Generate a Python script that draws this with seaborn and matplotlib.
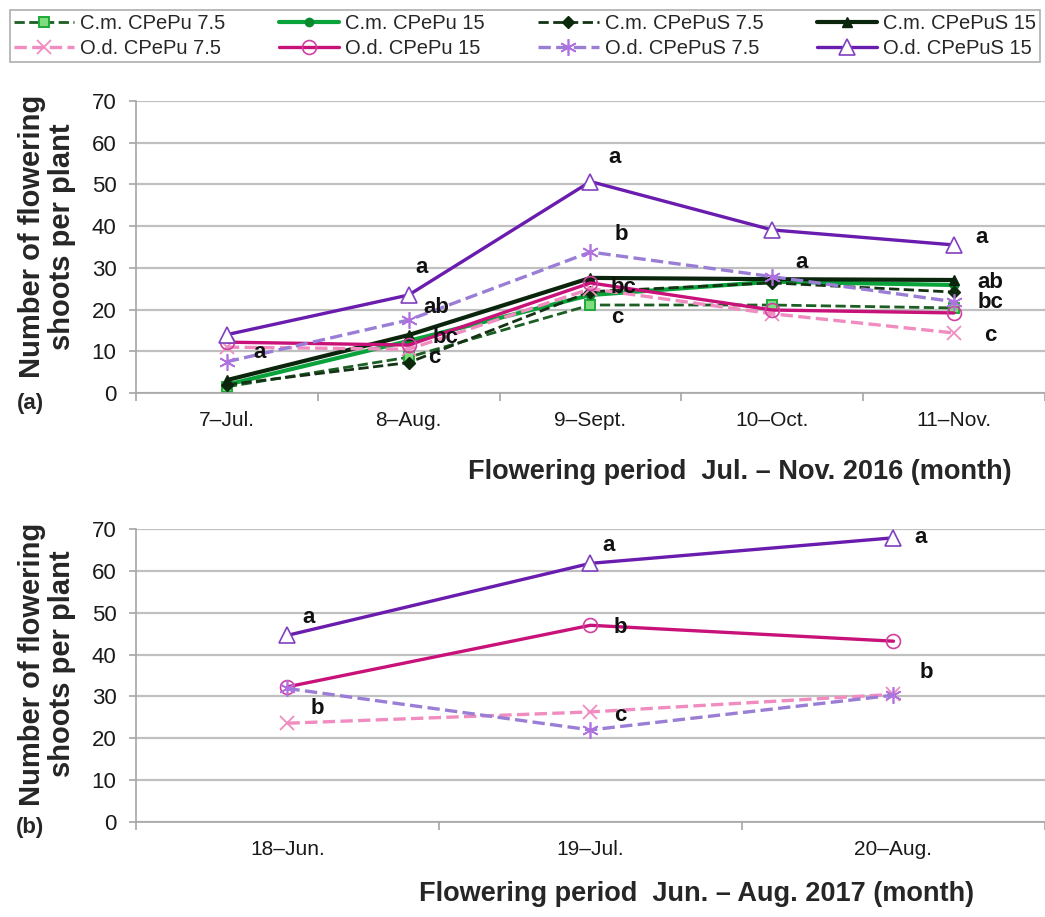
import matplotlib
matplotlib.use("Agg")
import matplotlib.pyplot as plt
from matplotlib.ticker import FixedLocator, NullFormatter
import seaborn as sns

# ---- data -----------------------------------------------------------------
months_2016 = ["7\u2013Jul.", "8\u2013Aug.", "9\u2013Sept.", "10\u2013Oct.", "11\u2013Nov."]
months_2017 = ["18\u2013Jun.", "19\u2013Jul.", "20\u2013Aug."]

series_names = [
    "C.m. CPePu 7.5", "C.m. CPePu 15", "C.m. CPePuS 7.5", "C.m. CPePuS 15",
    "O.d. CPePu 7.5", "O.d. CPePu 15", "O.d. CPePuS 7.5", "O.d. CPePuS 15",
]

# 2016 flowering shoots per plant
cm_cpepu_75_2016 = [1.5, 8.6, 21.1, 21.1, 20.4]
cm_cpepu_15_2016 = [2.0, 12.5, 23.5, 26.7, 25.9]
cm_cpepus_75_2016 = [2.0, 7.3, 24.3, 26.4, 24.2]
cm_cpepus_15_2016 = [3.1, 13.9, 27.6, 27.3, 27.1]
od_cpepu_75_2016 = [11.0, 10.5, 25.0, 19.0, 14.4]
od_cpepu_15_2016 = [12.2, 11.5, 26.4, 19.9, 19.2]
od_cpepus_75_2016 = [7.5, 17.5, 33.8, 27.9, 21.9]
od_cpepus_15_2016 = [14.0, 23.5, 50.7, 39.1, 35.5]

# 2017 flowering shoots per plant (O.d. only)
od_cpepu_75_2017 = [23.6, 26.3, 30.5]
od_cpepu_15_2017 = [32.3, 47.0, 43.2]
od_cpepus_75_2017 = [31.9, 22.0, 30.3]
od_cpepus_15_2017 = [44.6, 61.8, 67.9]

# significance letters: (text, x position in category units, y value)
letters_2016 = [
    ("a", 0.18, 9.8),
    ("a", 1.07, 30.2), ("ab", 1.15, 20.4), ("bc", 1.20, 13.4), ("c", 1.14, 8.4),
    ("a", 2.13, 56.4), ("b", 2.17, 37.9), ("bc", 2.18, 25.2), ("c", 2.15, 18.0),
    ("a", 3.16, 31.2),
    ("a", 4.15, 37.4), ("ab", 4.20, 26.6), ("bc", 4.20, 21.6), ("c", 4.20, 13.9),
]
letters_2017 = [
    ("a", 0.07, 48.9), ("b", 0.10, 27.2),
    ("a", 1.06, 66.1), ("b", 1.10, 46.5), ("c", 1.10, 25.5),
    ("a", 2.09, 68.0), ("b", 2.11, 35.8),
]

# ---- line styles ------------------------------------------------------------
styles = {
    "C.m. CPePu 7.5": dict(color="#1d5e25", linestyle="--", lw=2.0, marker="s", ms=7,
                           mfc="#7fdc7f", mec="#1faa3a", mew=1.4),
    "C.m. CPePu 15": dict(color="#0aa23a", linestyle="-", lw=3.0, marker="o", ms=6,
                          mfc="#0a8a2e", mec="#0a8a2e"),
    "C.m. CPePuS 7.5": dict(color="#143214", linestyle="--", lw=2.0, marker="D", ms=6,
                            mfc="#0c2a0c", mec="#0c2a0c"),
    "C.m. CPePuS 15": dict(color="#0b250d", linestyle="-", lw=3.0, marker="^", ms=7,
                           mfc="#0b250d", mec="#0b250d"),
    "O.d. CPePu 7.5": dict(color="#f08cc0", linestyle="--", lw=2.4, marker="x", ms=10,
                           mfc="none", mec="#f08cc0", mew=1.3),
    "O.d. CPePu 15": dict(color="#c8127a", linestyle="-", lw=2.4, marker="o", ms=10,
                          mfc="none", mec="#d040a0", mew=1.2),
    "O.d. CPePuS 7.5": dict(color="#9a7ed6", linestyle="--", lw=2.4, marker=(6, 2, 0), ms=12,
                            mfc="none", mec="#b070e0", mew=1.2),
    "O.d. CPePuS 15": dict(color="#6a1cae", linestyle="-", lw=2.4, marker="^", ms=11,
                           mfc="white", mec="#8040c0", mew=1.2),
}

sns.set_theme(style="white")
plt.rcParams["font.family"] = ["Liberation Sans", "DejaVu Sans"]

fig = plt.figure(figsize=(10.45, 9.17), dpi=100)
ax1 = fig.add_axes([0.1301, 0.5714, 0.8699, 0.3184])
ax2 = fig.add_axes([0.1301, 0.1036, 0.8699, 0.3195])

grid_color = "#c0c0c0"


def draw_series(ax, months, values, name):
    st = styles[name]
    sns.lineplot(x=months, y=values, ax=ax, sort=False, errorbar=None, label=name,
                 color=st["color"], linestyle=st["linestyle"], linewidth=st["lw"],
                 marker=st["marker"], markersize=st["ms"],
                 markerfacecolor=st.get("mfc", st["color"]),
                 markeredgecolor=st.get("mec", st["color"]),
                 markeredgewidth=st.get("mew", 1.0), legend=False)


data_2016 = [cm_cpepu_75_2016, cm_cpepu_15_2016, cm_cpepus_75_2016, cm_cpepus_15_2016,
             od_cpepu_75_2016, od_cpepu_15_2016, od_cpepus_75_2016, od_cpepus_15_2016]
for name, vals in zip(series_names, data_2016):
    draw_series(ax1, months_2016, vals, name)

data_2017 = [od_cpepu_75_2017, od_cpepu_15_2017, od_cpepus_75_2017, od_cpepus_15_2017]
for name, vals in zip(series_names[4:], data_2017):
    draw_series(ax2, months_2017, vals, name)


def style_axes(ax, n, letters, label_y):
    ax.set_xlim(-0.5, n - 0.5)
    ax.set_ylim(0, 70)
    ax.set_yticks(range(0, 71, 10))
    ax.yaxis.grid(True, color=grid_color, lw=1.6)
    ax.set_axisbelow(True)
    for s in ("top", "right"):
        ax.spines[s].set_visible(False)
    for s in ("left", "bottom"):
        ax.spines[s].set_color("#a6a6a6")
        ax.spines[s].set_linewidth(1.2)
    ax.xaxis.set_minor_locator(FixedLocator([i - 0.5 for i in range(n + 1)]))
    ax.xaxis.set_minor_formatter(NullFormatter())
    ax.tick_params(axis="x", which="major", length=0, pad=13, labelsize=15, labelcolor="#1a1a1a")
    ax.tick_params(axis="x", which="minor", length=6, width=1.2, color="#a6a6a6",
                   direction="out", bottom=True)
    ax.tick_params(axis="y", which="major", length=5, width=1.2, color="#a6a6a6",
                   direction="out", left=True, pad=9, labelsize=16, labelcolor="#1a1a1a")
    ax.set_ylabel("Number of flowering\nshoots per plant", fontsize=21, fontweight="bold",
                  linespacing=1.1)
    ax.yaxis.set_label_coords(-0.066, label_y)
    for txt, xx, yy in letters:
        ax.text(xx, yy, txt, ha="center", va="center", fontsize=16, fontweight="bold",
                color="#111111")


style_axes(ax1, len(months_2016), letters_2016, 0.535)
style_axes(ax2, len(months_2017), letters_2017, 0.539)

ax1.set_xlabel("Flowering period  Jul. \u2013 Nov. 2016 (month)", fontsize=19.5,
               fontweight="bold")
ax1.xaxis.set_label_coords(0.664, -0.225)
ax2.set_xlabel("Flowering period  Jun. \u2013 Aug. 2017 (month)", fontsize=19.5,
               fontweight="bold")
ax2.xaxis.set_label_coords(0.617, -0.200)

fig.text(30 / 1045, 1 - 404 / 917, "(a)", ha="center", va="center", fontsize=16,
         fontweight="bold")
fig.text(30 / 1045, 1 - 828 / 917, "(b)", ha="center", va="center", fontsize=16,
         fontweight="bold")

# legend: rows C.m. / O.d., filled column by column
handles, labels = ax1.get_legend_handles_labels()
order = [0, 4, 1, 5, 2, 6, 3, 7]
leg = fig.legend([handles[i] for i in order], [labels[i] for i in order],
                 loc="lower left", bbox_to_anchor=(10 / 1045, 1 - 62 / 917, 1030 / 1045, 50 / 917),
                 mode="expand", ncol=4, fontsize=14.5, frameon=True, fancybox=False,
                 edgecolor="#9a9a9a", handlelength=3.0, handletextpad=0.3,
                 borderpad=0.2, labelspacing=0.3, columnspacing=0.8, borderaxespad=0)
leg.get_frame().set_linewidth(1.2)

fig.savefig("out.png", dpi=100)
